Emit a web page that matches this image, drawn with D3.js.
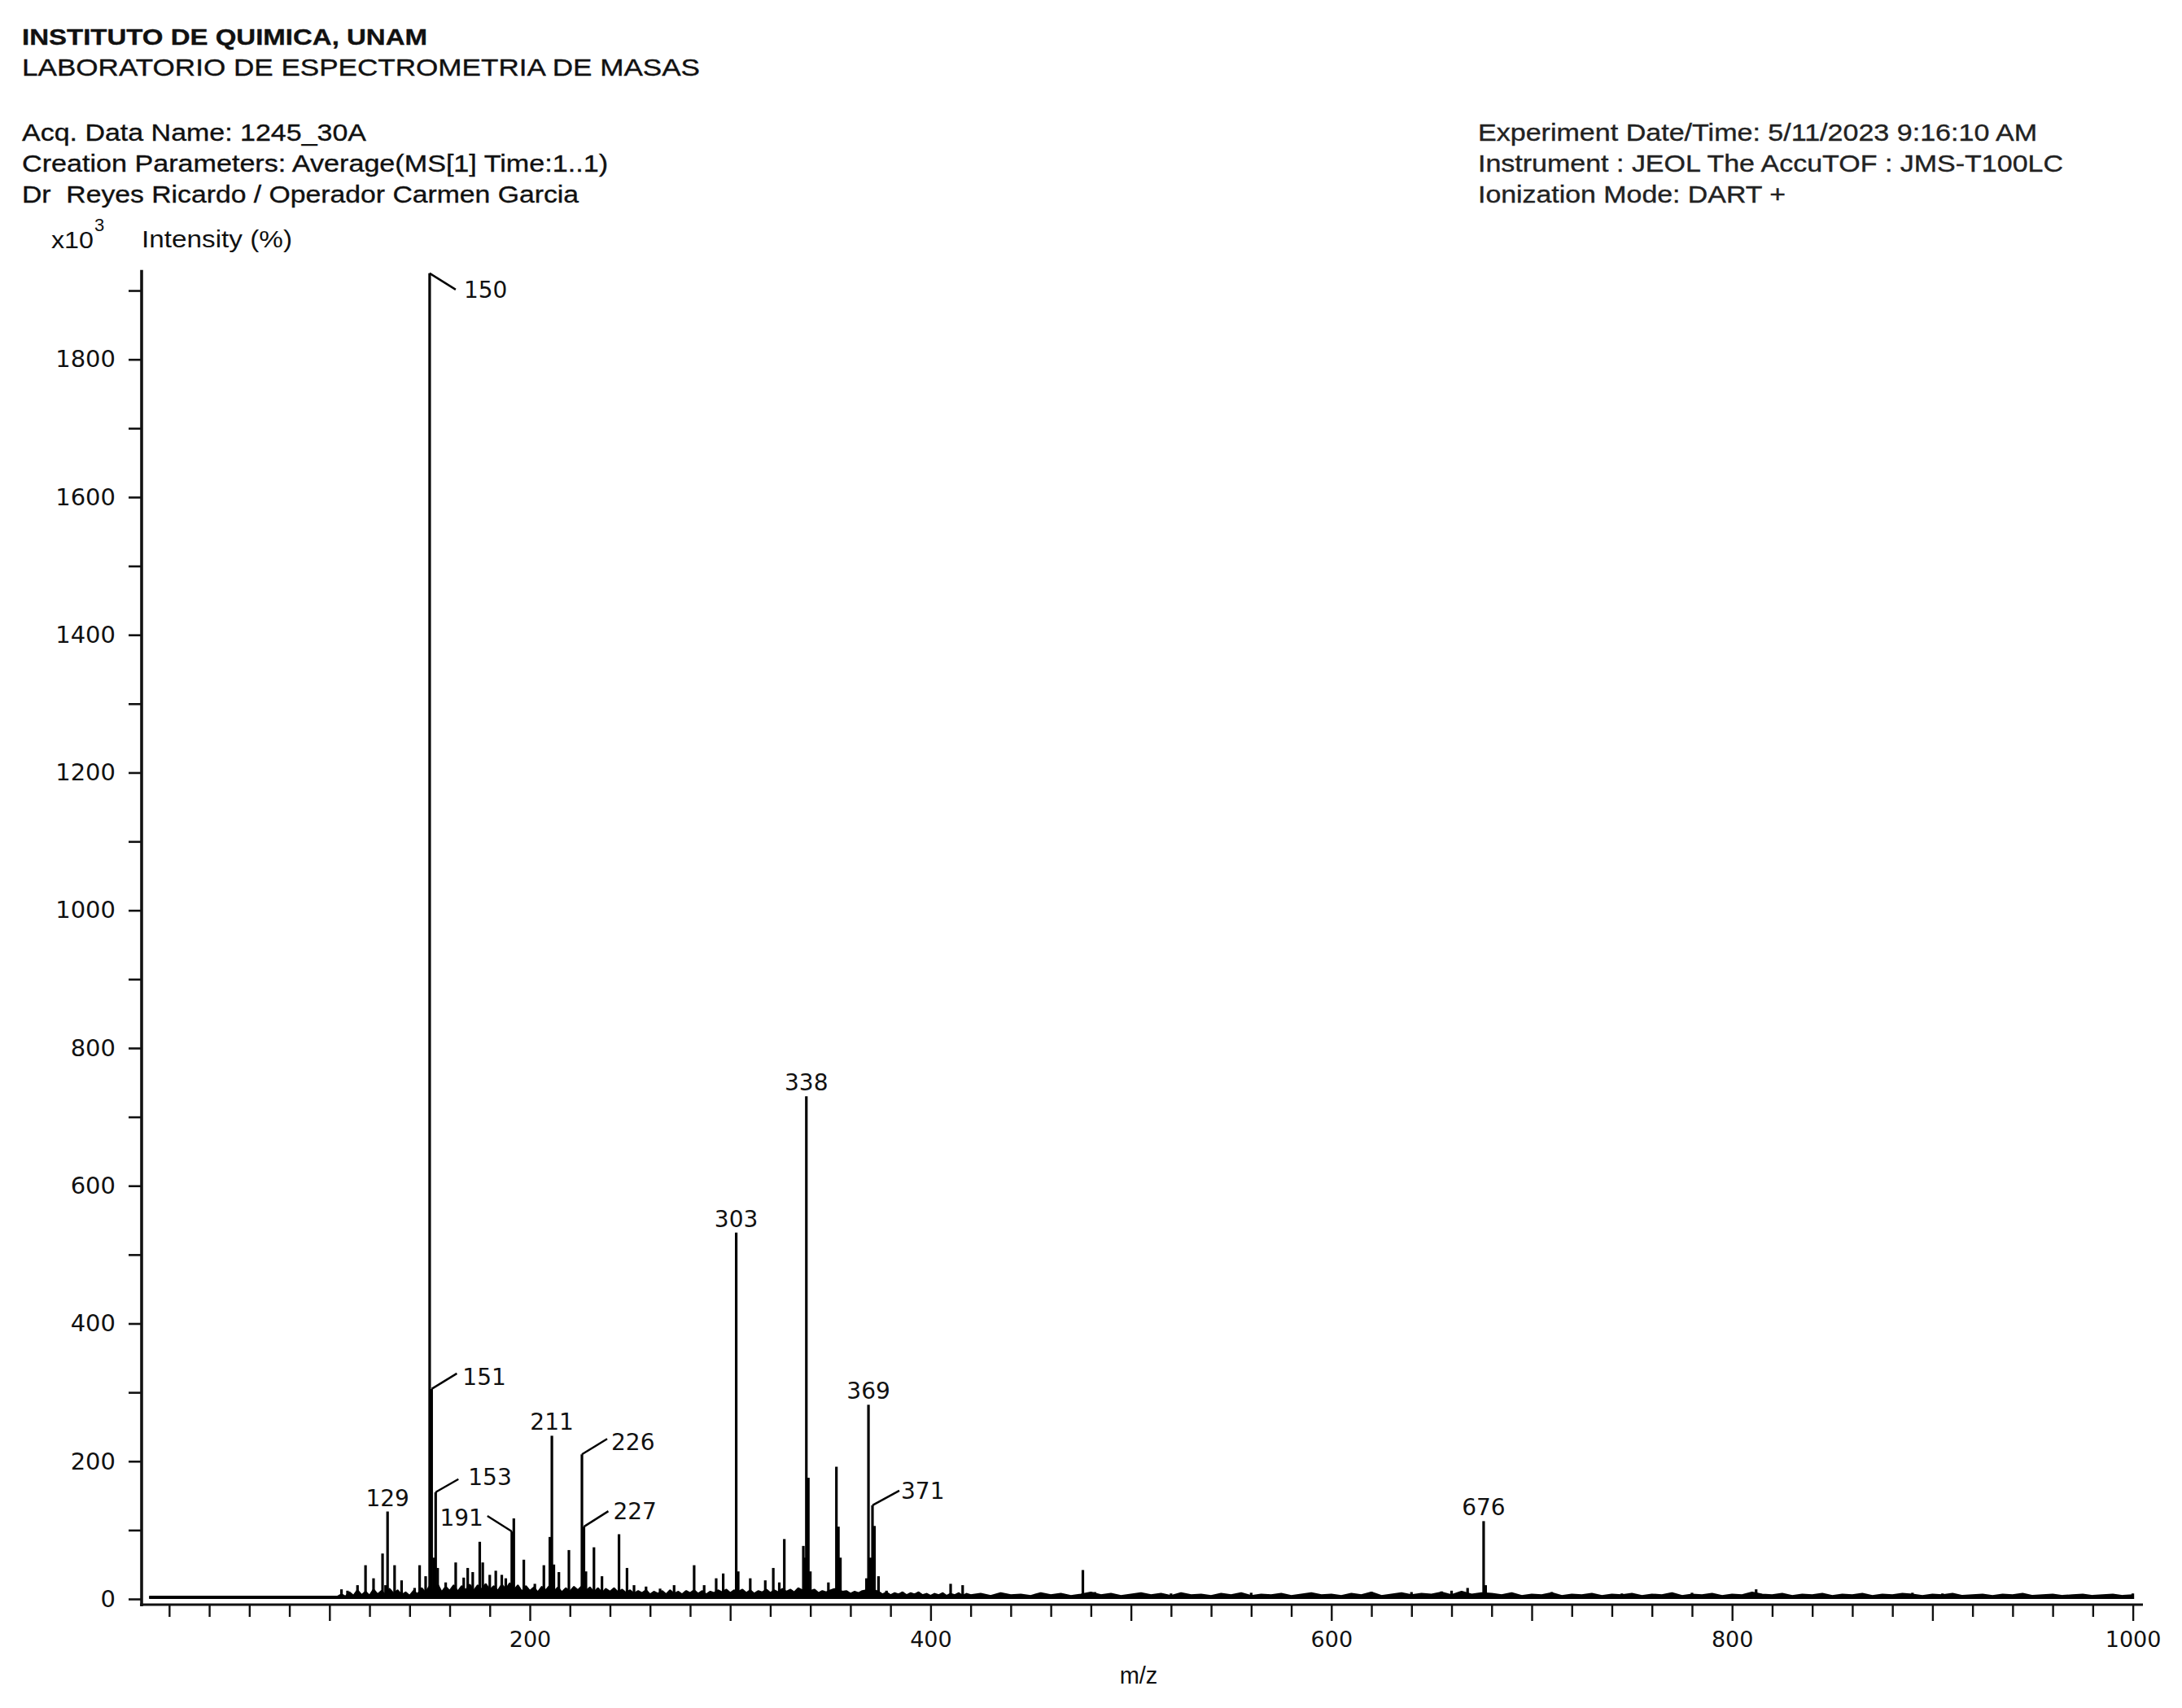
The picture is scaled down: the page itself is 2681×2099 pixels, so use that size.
<!DOCTYPE html>
<html><head><meta charset="utf-8">
<script src="https://cdn.jsdelivr.net/npm/d3@7"></script>
<style>
html,body{margin:0;padding:0;background:#fff;}
svg{display:block;}
</style></head><body>
<svg id="c" width="2681" height="2099"></svg>
<script>
// ---------- DATA ----------
const peakMz  = [106,109,114,118,122,126.5,128,129,132.5,136,142.5,145,148,150,151,152,153,154,158,163,167,169,171.5,175,176.5,180,183,186,188,191,192,197,202.5,207,210,211,212,214.5,219.5,226,227,228,232,236,244.5,248.5,252,258,265,272,282,287,293,296.5,303,304,310,317.5,321.5,324.5,327,336.5,337.5,338,339,340,349,353,354,355,368,369,370,371,372,374,378,386,394,410,416,476,482,520,560,620,640,655,660,668,676,677,690,710,745,780,812,890,905,960,1000];
const peakInt = [14,12,20,49,30,66,20,127,49,27,16,49,33,1925,305,60,155,45,24,53,31,45,39,83,53,35,41,35,30,98,117,57,22,49,90,237,50,39,71,210,105,40,75,33,94,45,20,18,15,20,49,20,30,37,532,40,30,27,45,24,87,77,60,730,176,40,24,192,105,60,30,282,60,136,106,33,12,10,10,22,20,42,10,8,9,10,10,11,12,16,113,20,9,10,8,9,14,9,8,7,8];

// baseline / noise profile [m/z, intensity x10^3]
const noise = [[10,3],[104,3],
[106,6],[108,3],[110,9],[112,4],[114,12],[116,5],[118,10],[120,4],[122,13],[124,6],[126,11],[128,5],[130,14],[132,7],[134,12],[136,5],[138,9],[140,4],[142,11],[144,6],[146,15],[148,8],[150,18],[152,10],[154,20],[156,9],[158,17],[160,11],[162,19],[164,10],[166,18],[168,12],[170,20],[172,11],[174,19],[176,13],[178,21],[180,12],[182,18],[184,11],[186,20],[188,13],[190,22],[192,12],[194,19],[196,10],[198,18],[200,11],[202,16],[204,9],[206,17],[208,12],[210,19],[212,10],[214,16],[216,9],[218,15],[220,10],[222,17],[224,12],[226,18],[228,11],[230,16],[232,9],[234,15],[236,8],[238,14],[240,10],[242,15],[244,9],[246,13],[248,8],[250,12],[252,7],[254,11],[256,8],[258,12],[260,6],[262,10],[264,7],[266,11],[268,6],[270,12],[272,7],[274,10],[276,6],[278,11],[280,8],[282,12],[284,7],[286,11],[288,6],[290,10],[292,8],[294,12],[296,9],[298,13],[300,8],[302,12],[304,10],[306,13],[308,8],[310,12],[312,7],[314,11],[316,9],[318,13],[320,8],[322,12],[324,9],[326,14],[328,10],[330,13],[332,9],[334,15],[336,12],[338,16],[340,11],[342,13],[344,8],[346,11],[348,9],[350,12],[352,14],[354,13],[356,10],[358,11],[360,7],[362,10],[364,8],[366,11],[368,12],[370,15],[372,12],[374,10],[376,6],[378,9],[380,5],[382,8],[384,6],[386,9],[388,5],[390,8],[392,6],[394,9],[396,5],[398,7],[400,4],[402,7],[404,5],[406,8],[408,4],[410,7],[412,5],[414,8],[416,4],[418,7],[420,5],
[425,7],[430,4],[435,8],[440,5],[445,6],[450,4],[455,8],[460,5],[465,7],[470,4],[475,6],[480,9],[485,5],[490,7],[495,4],[500,6],[505,8],[510,5],[515,7],[520,4],[525,8],[530,5],[535,6],[540,4],[545,7],[550,5],[555,8],[560,4],[565,6],[570,5],[575,7],[580,4],[585,6],[590,8],[595,5],[600,6],[605,4],[610,7],[615,5],[620,9],[625,4],[630,6],[635,8],[640,5],[645,7],[650,6],[655,9],[660,5],[665,10],[670,6],[675,8],[680,7],[685,5],[690,8],[695,4],[700,6],[705,5],[710,8],[715,4],[720,6],[725,5],[730,7],[735,4],[740,6],[745,5],[750,7],[755,4],[760,6],[765,5],[770,8],[775,4],[780,6],[785,5],[790,7],[795,4],[800,6],[805,5],[810,9],[815,6],[820,5],[825,7],[830,4],[835,6],[840,5],[845,7],[850,4],[855,6],[860,5],[865,7],[870,4],[875,6],[880,5],[885,7],[890,6],[895,4],[900,6],[905,5],[910,7],[915,4],[920,5],[925,6],[930,4],[935,6],[940,5],[945,7],[950,4],[955,5],[960,6],[965,4],[970,5],[975,6],[980,4],[985,5],[990,6],[995,4],[1000,5]];

const labelMz   = [150,151,129,153,191,211,226,227,303,338,369,371,676];
const labelText = ["150","151","129","153","191","211","226","227","303","338","369","371","676"];

const xTickLabels = [200,400,600,800,1000];
const yTickLabels = [0,200,400,600,800,1000,1200,1400,1600,1800];

const headerLeft = ["INSTITUTO DE QUIMICA, UNAM","LABORATORIO DE ESPECTROMETRIA DE MASAS","Acq. Data Name: 1245_30A","Creation Parameters: Average(MS[1] Time:1..1)","Dr  Reyes Ricardo / Operador Carmen Garcia"];
const headerRight = ["Experiment Date/Time: 5/11/2023 9:16:10 AM","Instrument : JEOL The AccuTOF : JMS-T100LC","Ionization Mode: DART +"];

// ---------- LAYOUT ----------
const SANS = "'Liberation Sans',Arial,sans-serif";
const WIDE = "'DejaVu Sans',sans-serif";
const svg = d3.select("#c");
const x = d3.scaleLinear().domain([0,1000]).range([158.6,2620.6]);
const y0 = 1965, pxPerUnit = 0.8463;
const y = d3.scaleLinear().domain([0,1930]).range([y0, y0-1930*pxPerUnit]);
const axisLeftX = 174, axisBottomY = 1972;

function txt(g, s, family, size) {
  return g.append("text").style("font-family", family).style("font-size", size+"px")
    .style("fill","#111").style("white-space","pre").text(s);
}

// header
const leftLayout = [
  {y:55, w:498, size:28, weight:"bold"},
  {y:93, w:833, size:29},
  {y:173, w:423, size:29},
  {y:211, w:720, size:29},
  {y:249, w:684, size:29}
];
headerLeft.forEach((t,i)=>{
  const L = leftLayout[i];
  txt(svg, t, SANS, L.size).attr("x",27).attr("y",L.y)
    .style("font-weight",L.weight||"normal")
    .style("stroke","#111").style("stroke-width",0.35)
    .attr("textLength",L.w).attr("lengthAdjust","spacingAndGlyphs");
});
const rightLayout = [{y:173,w:687},{y:211,w:719},{y:249,w:378}];
headerRight.forEach((t,i)=>{
  const L = rightLayout[i];
  txt(svg, t, SANS, 29).attr("x",1816).attr("y",L.y)
    .style("fill","#222").style("stroke","#222").style("stroke-width",0.35)
    .attr("textLength",L.w).attr("lengthAdjust","spacingAndGlyphs");
});
// y label
txt(svg,"x10",SANS,29).attr("x",63).attr("y",305)
  .attr("textLength",52).attr("lengthAdjust","spacingAndGlyphs");
txt(svg,"3",SANS,22).attr("x",116).attr("y",284);
txt(svg,"Intensity (%)",SANS,29).attr("x",174).attr("y",304)
  .attr("textLength",185).attr("lengthAdjust","spacingAndGlyphs");
// x label
txt(svg,"m/z",SANS,29).attr("x",1399).attr("y",2069).attr("text-anchor","middle");

// ---------- AXES ----------
const xAxis = d3.axisBottom(x)
  .tickValues(d3.range(20,1001,20))
  .tickSize(15).tickSizeOuter(0)
  .tickFormat(d => xTickLabels.includes(d) ? d : "");
const gx = svg.append("g").attr("transform",`translate(0,${axisBottomY})`).call(xAxis);
gx.select(".domain").remove();
gx.selectAll(".tick line").attr("stroke","#111").attr("stroke-width",2.4)
  .attr("y2", d => d % 100 === 0 ? 20 : 15);
gx.selectAll(".tick text").attr("y",33)
  .style("font-family",WIDE).style("font-size","27px").style("fill","#111");
svg.append("line").attr("x1",172).attr("x2",2633)
  .attr("y1",axisBottomY).attr("y2",axisBottomY)
  .attr("stroke","#111").attr("stroke-width",3.2);

const yAxis = d3.axisLeft(y)
  .tickValues(d3.range(0,1901,100))
  .tickSize(16).tickSizeOuter(0)
  .tickFormat(d => yTickLabels.includes(d) ? d : "");
const gy = svg.append("g").attr("transform",`translate(${axisLeftX},0)`).call(yAxis);
gy.select(".domain").remove();
gy.selectAll(".tick line").attr("stroke","#111").attr("stroke-width",2.6);
gy.selectAll(".tick text").attr("x",-32)
  .style("font-family",WIDE).style("font-size","29px").style("fill","#111");
svg.append("line").attr("x1",axisLeftX).attr("x2",axisLeftX)
  .attr("y1",y(1930)).attr("y2",axisBottomY+2)
  .attr("stroke","#111").attr("stroke-width",3.6);

// ---------- DATA MARKS ----------
const area = d3.area().x(d=>x(d[0])).y0(y(0)).y1(d=>y(d[1]));
svg.append("path").datum(noise).attr("d",area).attr("fill","#000");
const line = d3.line().x(d=>x(d[0])).y(d=>y(d[1]));
svg.append("path").datum(noise).attr("d",line)
  .attr("fill","none").attr("stroke","#000").attr("stroke-width",3)
  .attr("stroke-linejoin","round");

const peaks = peakMz.map((m,i)=>({mz:m, v:peakInt[i]}));
svg.append("g").selectAll("line").data(peaks).join("line")
  .attr("x1",d=>x(d.mz)).attr("x2",d=>x(d.mz))
  .attr("y1",y(0)).attr("y2",d=>y(d.v))
  .attr("stroke","#000").attr("stroke-width",3.2);

// ---------- PEAK LABELS ----------
const leaderLayout = {
  "150":{lx:32, ly:20, tx:42, ty:30},
  "151":{lx:31, ly:-19, tx:38, ty:-5},
  "153":{lx:28, ly:-16, tx:40, ty:-9},
  "191":{lx:-30, ly:-19, tx:-35, ty:-7, anchor:"end"},
  "226":{lx:31, ly:-19, tx:36, ty:-5},
  "227":{lx:30, ly:-19, tx:36, ty:-9},
  "371":{lx:33, ly:-18, tx:35, ty:-8}
};
const gl = svg.append("g");
labelMz.forEach((m,i)=>{
  const idx = peakMz.indexOf(m);
  const px = x(m), py = y(peakInt[idx]);
  const t = labelText[i];
  const L = leaderLayout[t];
  if (L) {
    gl.append("line").attr("x1",px).attr("y1",py).attr("x2",px+L.lx).attr("y2",py+L.ly)
      .attr("stroke","#000").attr("stroke-width",2.4);
    txt(gl,t,WIDE,28).attr("x",px+L.tx).attr("y",py+L.ty)
      .attr("text-anchor",L.anchor||"start");
  } else {
    txt(gl,t,WIDE,28).attr("x",px).attr("y",py-7).attr("text-anchor","middle");
  }
});
</script>
</body></html>
